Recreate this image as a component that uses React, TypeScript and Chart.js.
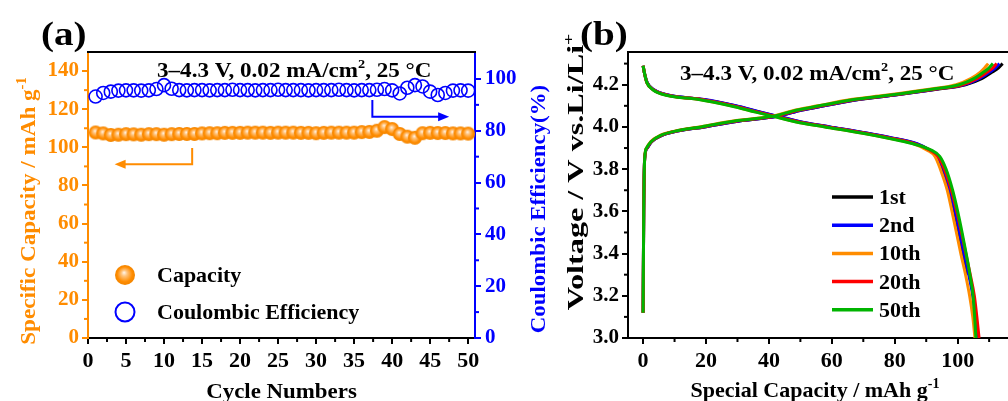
import React, { useEffect, useRef } from 'react';
import { Chart, registerables } from 'chart.js';

Chart.register(...registerables);

const SERIF = "'Liberation Serif', 'Times New Roman', Times, serif";
const ORANGE = '#FF8C00';
const BLUE = '#0000FF';
const BLACK = '#000000';

// ---------- Panel (a): cycling ----------
const cycleNumbers = [1, 2, 3, 4, 5, 6, 7, 8, 9, 10, 11, 12, 13, 14, 15, 16, 17, 18, 19, 20, 21, 22, 23, 24, 25, 26, 27, 28, 29, 30, 31, 32, 33, 34, 35, 36, 37, 38, 39, 40, 41, 42, 43, 44, 45, 46, 47, 48, 49, 50];
const specificCapacity = [107.8, 107.3, 106.5, 106.6, 106.9, 106.8, 106.6, 106.9, 106.9, 106.6, 106.9, 107.0, 107.0, 107.0, 107.3, 107.4, 107.4, 107.6, 107.6, 107.6, 107.7, 107.7, 107.7, 107.6, 107.7, 107.7, 107.7, 107.6, 107.6, 107.4, 107.6, 107.7, 107.7, 107.7, 107.7, 108.0, 108.1, 108.7, 110.6, 109.6, 107.0, 105.6, 105.0, 107.4, 107.6, 107.5, 107.5, 107.3, 107.3, 107.2];
const coulombicEfficiency = [93.2, 94.6, 95.1, 95.5, 95.6, 95.6, 95.5, 95.6, 96.1, 97.6, 96.2, 95.7, 95.6, 95.7, 95.7, 95.6, 95.7, 95.7, 95.8, 95.7, 95.7, 95.6, 95.7, 95.7, 95.8, 95.7, 95.7, 95.7, 95.6, 95.7, 95.7, 95.7, 95.8, 95.7, 95.6, 95.7, 95.7, 95.8, 96.1, 95.6, 94.4, 96.6, 97.6, 97.1, 95.1, 93.8, 94.6, 95.5, 95.6, 95.5];
const cycleMinorTicks = [2.5, 7.5, 12.5, 17.5, 22.5, 27.5, 32.5, 37.5, 42.5, 47.5];
const capacityMinorTicks = [10, 30, 50, 70, 90, 110, 130];
const efficiencyMinorTicks = [10, 30, 50, 70, 90];

// ---------- Panel (b): charge / discharge profiles ----------
const cycleLabels = ['1st', '2nd', '10th', '20th', '50th'];
const cycleColors = ['#000000', '#0000FF', '#FF8C00', '#FF0000', '#00B400'];

const chargeVoltage = [3.12, 3.60, 3.85, 3.90, 3.93, 3.96, 3.98, 4.00, 4.03, 4.05, 4.08, 4.10, 4.13, 4.15, 4.18, 4.20, 4.23, 4.26, 4.28, 4.30];
const chargeCapacity1st = [0, 0.2, 0.5, 1.3, 2.7, 6.0, 10.8, 19.5, 31.5, 42.5, 50.5, 57.5, 68.5, 79.5, 94.0, 102.5, 107.8, 111.0, 113.0, 114.3];
const chargeCapacity2nd = [0, 0.2, 0.5, 1.3, 2.7, 6.0, 10.8, 19.5, 31.5, 42.5, 50.5, 57.5, 68.5, 79.5, 93.5, 102.0, 107.0, 110.2, 112.0, 113.3];
const chargeCapacity10th = [0, 0.2, 0.5, 1.1, 2.4, 5.4, 10.0, 18.0, 29.5, 40.5, 48.5, 55.5, 66.0, 77.0, 91.5, 99.5, 104.3, 107.2, 108.6, 109.7];
const chargeCapacity20th = [0, 0.2, 0.5, 1.2, 2.6, 5.8, 10.5, 19.0, 30.8, 41.8, 49.8, 56.8, 67.8, 78.8, 93.2, 101.5, 106.3, 109.4, 111.2, 112.4];
const chargeCapacity50th = [0, 0.2, 0.5, 1.1, 2.5, 5.6, 10.2, 18.5, 30.0, 41.0, 49.0, 56.0, 67.0, 78.0, 92.3, 100.5, 105.3, 108.3, 110.0, 111.2];

const dischargeVoltage = [4.29, 4.25, 4.21, 4.175, 4.15, 4.13, 4.10, 4.07, 4.05, 4.02, 4.00, 3.97, 3.95, 3.92, 3.89, 3.86, 3.80, 3.70, 3.60, 3.50, 3.40, 3.30, 3.20, 3.10, 3.00];
const dischargeCapacity1st = [0, 0.5, 1.3, 3.5, 8.1, 19.2, 29.2, 37.2, 42.7, 51.2, 59.2, 71.2, 78.2, 87.0, 91.0, 93.5, 95.3, 97.4, 99.0, 100.4, 101.7, 103.2, null, null, null];
const dischargeCapacity2nd = [0, 0.5, 1.3, 3.6, 8.3, 19.5, 29.5, 37.5, 43.0, 51.5, 59.5, 71.5, 78.5, 87.3, 91.2, 93.6, 95.5, 97.6, 99.2, 100.6, 102.0, 103.5, 104.8, 105.6, 106.2];
const dischargeCapacity10th = [0, 0.5, 1.2, 3.3, 7.5, 18.0, 28.0, 36.0, 41.5, 50.0, 58.0, 70.0, 77.0, 86.0, 90.3, 92.8, 94.5, 96.7, 98.2, 99.6, 101.0, 102.5, 103.8, 104.8, 105.5];
const dischargeCapacity20th = [0, 0.5, 1.2, 3.4, 7.8, 18.6, 28.6, 36.6, 42.2, 50.7, 58.7, 70.7, 77.7, 86.6, 91.2, 93.8, 95.8, 98.0, 99.7, 101.2, 102.6, 104.0, 105.3, 106.1, 106.8];
const dischargeCapacity50th = [0, 0.5, 1.2, 3.2, 7.3, 17.7, 27.7, 35.8, 41.3, 49.8, 57.8, 69.8, 76.8, 85.8, 91.6, 94.3, 96.3, 98.4, 100.0, 101.4, 102.7, 103.9, 104.9, 105.4, 105.8];

const voltageMinorTicks = [3.1, 3.3, 3.5, 3.7, 3.9, 4.1, 4.3];
const specialCapacityMinorTicks = [10, 30, 50, 70, 90, 110];

const chargeSets = [chargeCapacity1st, chargeCapacity2nd, chargeCapacity10th, chargeCapacity20th, chargeCapacity50th];
const dischargeSets = [dischargeCapacity1st, dischargeCapacity2nd, dischargeCapacity10th, dischargeCapacity20th, dischargeCapacity50th];

// ---------- helpers ----------
type Seg = { t: string; sup?: boolean };

function richText(
  ctx: CanvasRenderingContext2D,
  segs: Seg[],
  x: number,
  y: number,
  size: number,
  color: string,
  opts: { align?: 'left' | 'center'; rot?: number; sx?: number } = {}
) {
  ctx.save();
  ctx.translate(x, y);
  if (opts.rot) ctx.rotate(opts.rot);
  ctx.scale(opts.sx ?? 1, 1);
  ctx.fillStyle = color;
  ctx.textBaseline = 'alphabetic';
  ctx.textAlign = 'left';
  const fontOf = (s: Seg) => `bold ${s.sup ? Math.round(size * 0.62) : size}px ${SERIF}`;
  const widths = segs.map((s) => {
    ctx.font = fontOf(s);
    return ctx.measureText(s.t).width;
  });
  const total = widths.reduce((a, b) => a + b, 0);
  let cx = opts.align === 'center' ? -total / 2 : 0;
  segs.forEach((s, i) => {
    ctx.font = fontOf(s);
    ctx.fillText(s.t, cx, s.sup ? -size * 0.42 : 0);
    cx += widths[i];
  });
  ctx.restore();
}

function arrowPath(ctx: CanvasRenderingContext2D, pts: number[][], color: string) {
  ctx.save();
  ctx.strokeStyle = color;
  ctx.fillStyle = color;
  ctx.lineWidth = 2;
  const n = pts.length;
  const [ex, ey] = pts[n - 1];
  const [px, py] = pts[n - 2];
  const ang = Math.atan2(ey - py, ex - px);
  const head = 11;
  ctx.beginPath();
  ctx.moveTo(pts[0][0], pts[0][1]);
  for (let i = 1; i < n - 1; i++) ctx.lineTo(pts[i][0], pts[i][1]);
  ctx.lineTo(ex - Math.cos(ang) * head * 0.8, ey - Math.sin(ang) * head * 0.8);
  ctx.stroke();
  ctx.beginPath();
  ctx.moveTo(ex, ey);
  ctx.lineTo(ex - Math.cos(ang) * head + Math.sin(ang) * 4.5, ey - Math.sin(ang) * head - Math.cos(ang) * 4.5);
  ctx.lineTo(ex - Math.cos(ang) * head - Math.sin(ang) * 4.5, ey - Math.sin(ang) * head + Math.cos(ang) * 4.5);
  ctx.closePath();
  ctx.fill();
  ctx.restore();
}

function makeSphere(r: number) {
  const c = document.createElement('canvas');
  const s = Math.ceil(2 * r + 2);
  c.width = s;
  c.height = s;
  const g = c.getContext('2d')!;
  const cx = s / 2;
  const cy = s / 2;
  const grad = g.createRadialGradient(cx - r * 0.1, cy - r * 0.25, 0, cx, cy, r);
  grad.addColorStop(0, '#FFF6EC');
  grad.addColorStop(0.3, '#FFC27A');
  grad.addColorStop(0.75, '#FF8C00');
  grad.addColorStop(1, '#F28500');
  g.fillStyle = grad;
  g.beginPath();
  g.arc(cx, cy, r, 0, Math.PI * 2);
  g.fill();
  return c;
}

function hLine(ctx: CanvasRenderingContext2D, x1: number, y1: number, x2: number, y2: number, color: string, w = 2) {
  ctx.save();
  ctx.strokeStyle = color;
  ctx.lineWidth = w;
  ctx.beginPath();
  ctx.moveTo(x1, y1);
  ctx.lineTo(x2, y2);
  ctx.stroke();
  ctx.restore();
}

const tickFont = (size: number) => ({ family: SERIF, size, weight: 'bold' as const });

const A_W = 552;
const B_W = 456;

export default function App() {
  const refA = useRef<HTMLCanvasElement>(null);
  const refB = useRef<HTMLCanvasElement>(null);

  useEffect(() => {
    const sphere = makeSphere(7);
    const legendSphere = makeSphere(10);

    const pluginA = {
      id: 'panelA',
      afterDraw(chart: any) {
        const { ctx, chartArea: ca, scales } = chart;
        const sx = scales.x;
        const sy = scales.y;
        const sy1 = scales.y1;
        hLine(ctx, ca.left - 1, ca.top, ca.right + 1, ca.top, BLACK);
        cycleMinorTicks.forEach((v) => {
          const p = sx.getPixelForValue(v);
          hLine(ctx, p, ca.bottom, p, ca.bottom + 4, BLACK);
        });
        capacityMinorTicks.forEach((v) => {
          const p = sy.getPixelForValue(v);
          hLine(ctx, ca.left, p, ca.left - 4, p, ORANGE);
        });
        efficiencyMinorTicks.forEach((v) => {
          const p = sy1.getPixelForValue(v);
          hLine(ctx, ca.right, p, ca.right + 4, p, BLUE);
        });
        richText(ctx, [{ t: '(a)' }], 41, 45, 34, BLACK, { sx: 1.15 });
        richText(ctx, [{ t: '3–4.3 V, 0.02 mA/cm' }, { t: '2', sup: true }, { t: ', 25 °C' }], ca.left + 69, ca.top + 25, 21, BLACK, { sx: 1.1 });
        arrowPath(ctx, [
          [sx.getPixelForValue(13.7), sy.getPixelForValue(99.6)],
          [sx.getPixelForValue(13.7), sy.getPixelForValue(91.1)],
          [sx.getPixelForValue(3.5), sy.getPixelForValue(91.1)],
        ], ORANGE);
        arrowPath(ctx, [
          [sx.getPixelForValue(37.4), sy1.getPixelForValue(91.9)],
          [sx.getPixelForValue(37.4), sy1.getPixelForValue(85.4)],
          [sx.getPixelForValue(47.5), sy1.getPixelForValue(85.4)],
        ], BLUE);
        const lx = ca.left + 37;
        ctx.drawImage(legendSphere, lx - legendSphere.width / 2, ca.top + 223 - legendSphere.height / 2);
        richText(ctx, [{ t: 'Capacity' }], ca.left + 69, ca.top + 230, 22, BLACK);
        ctx.save();
        ctx.strokeStyle = BLUE;
        ctx.lineWidth = 2;
        ctx.beginPath();
        ctx.arc(lx, ca.top + 260, 9.5, 0, Math.PI * 2);
        ctx.stroke();
        ctx.restore();
        richText(ctx, [{ t: 'Coulombic Efficiency' }], ca.left + 69, ca.top + 267, 22, BLACK);
        richText(ctx, [{ t: 'Cycle Numbers' }], (ca.left + ca.right) / 2, ca.bottom + 60, 22, BLACK, { align: 'center', sx: 1.04 });
        richText(ctx, [{ t: 'Specific Capacity / mAh g' }, { t: '-1', sup: true }], 35, 211, 22, ORANGE, { align: 'center', rot: -Math.PI / 2, sx: 1.05 });
        richText(ctx, [{ t: 'Coulombic Efficiency(%)' }], ca.right + 70, 209, 22, BLUE, { align: 'center', rot: -Math.PI / 2, sx: 1.04 });
      },
    };

    const pluginB = {
      id: 'panelB',
      afterDraw(chart: any) {
        const { ctx, chartArea: ca, scales } = chart;
        const sx = scales.x;
        const sy = scales.y;
        hLine(ctx, ca.left - 1, ca.top, ca.right, ca.top, BLACK);
        specialCapacityMinorTicks.forEach((v) => {
          const p = sx.getPixelForValue(v);
          hLine(ctx, p, ca.bottom, p, ca.bottom + 4, BLACK);
        });
        voltageMinorTicks.forEach((v) => {
          const p = sy.getPixelForValue(v);
          hLine(ctx, ca.left, p, ca.left - 4, p, BLACK);
        });
        richText(ctx, [{ t: '(b)' }], 28, 45, 34, BLACK, { sx: 1.15 });
        richText(ctx, [{ t: '3–4.3 V, 0.02 mA/cm' }, { t: '2', sup: true }, { t: ', 25 °C' }], ca.left + 52, ca.top + 28, 21, BLACK, { sx: 1.1 });
        cycleLabels.forEach((lab, i) => {
          const yy = ca.top + 145 + i * 28.2;
          hLine(ctx, ca.left + 204, yy, ca.left + 245, yy, cycleColors[i], 3.5);
          richText(ctx, [{ t: lab }], ca.left + 251, yy + 7, 22, BLACK);
        });
        richText(ctx, [{ t: 'Special Capacity / mAh g' }, { t: '-1', sup: true }], (ca.left + ca.right) / 2 - 3, ca.bottom + 59, 22, BLACK, { align: 'center' });
        richText(ctx, [{ t: 'Voltage / V vs.Li/Li' }, { t: '+', sup: true }], 31, 172, 23, BLACK, { align: 'center', rot: -Math.PI / 2, sx: 1.4 });
      },
    };

    const chartA = new Chart(refA.current!, {
      type: 'scatter',
      data: {
        datasets: [
          {
            label: 'Capacity',
            data: cycleNumbers.map((c, i) => ({ x: c, y: specificCapacity[i] })),
            yAxisID: 'y',
            pointStyle: sphere as any,
            pointRadius: 7,
            backgroundColor: ORANGE,
            borderColor: ORANGE,
          },
          {
            label: 'Coulombic Efficiency',
            data: cycleNumbers.map((c, i) => ({ x: c, y: coulombicEfficiency[i] })),
            yAxisID: 'y1',
            pointStyle: 'circle',
            pointRadius: 6.5,
            borderWidth: 1.6,
            borderColor: BLUE,
            backgroundColor: 'rgba(0,0,0,0)',
          },
        ],
      },
      options: {
        responsive: false,
        animation: false,
        events: [],
        layout: { padding: { top: 52, left: 0, right: 0, bottom: 0 } },
        plugins: { legend: { display: false }, tooltip: { enabled: false } },
        scales: {
          x: {
            type: 'linear',
            position: 'bottom',
            min: 0,
            max: 50.9,
            afterFit: (s: any) => { s.height = 63; },
            ticks: { stepSize: 5, includeBounds: false, color: BLACK, font: tickFont(22), padding: 4, maxRotation: 0, autoSkip: false },
            grid: { drawOnChartArea: false, drawTicks: true, tickLength: 6, color: BLACK, lineWidth: 2 },
            border: { display: true, color: BLACK, width: 2 },
          },
          y: {
            type: 'linear',
            position: 'left',
            min: 0,
            max: 150,
            afterFit: (s: any) => { s.width = 88; },
            ticks: { stepSize: 20, includeBounds: false, color: ORANGE, font: tickFont(21), padding: 3 },
            grid: { drawOnChartArea: false, drawTicks: true, tickLength: 6, color: ORANGE, lineWidth: 2 },
            border: { display: true, color: ORANGE, width: 2 },
          },
          y1: {
            type: 'linear',
            position: 'right',
            min: 0,
            max: 110.4,
            afterFit: (s: any) => { s.width = A_W - 475; },
            ticks: { stepSize: 20, includeBounds: false, color: BLUE, font: tickFont(21), padding: 4 },
            grid: { drawOnChartArea: false, drawTicks: true, tickLength: 6, color: BLUE, lineWidth: 2 },
            border: { display: true, color: BLUE, width: 2 },
          },
        },
      } as any,
      plugins: [pluginA],
    });

    const datasetsB: any[] = [];
    cycleLabels.forEach((lab, k) => {
      datasetsB.push({
        label: lab + ' charge',
        data: chargeVoltage.map((v, i) => ({ x: chargeSets[k][i], y: v })),
        borderColor: cycleColors[k],
        backgroundColor: cycleColors[k],
        borderWidth: 3,
        pointRadius: 0,
        cubicInterpolationMode: 'monotone',
        order: 5 - k,
      });
      datasetsB.push({
        label: lab + ' discharge',
        data: dischargeVoltage
          .map((v, i) => ({ x: dischargeSets[k][i], y: v }))
          .filter((p) => p.x !== null),
        borderColor: cycleColors[k],
        backgroundColor: cycleColors[k],
        borderWidth: 3,
        pointRadius: 0,
        cubicInterpolationMode: 'monotone',
        order: 5 - k,
      });
    });

    const chartB = new Chart(refB.current!, {
      type: 'line',
      data: { datasets: datasetsB },
      options: {
        responsive: false,
        animation: false,
        events: [],
        layout: { padding: { top: 52, left: 0, right: 0, bottom: 0 } },
        plugins: { legend: { display: false }, tooltip: { enabled: false } },
        scales: {
          x: {
            type: 'linear',
            position: 'bottom',
            min: -4.8,
            max: 116,
            afterFit: (s: any) => { s.height = 63; },
            ticks: { stepSize: 20, includeBounds: false, color: BLACK, font: tickFont(22), padding: 4, maxRotation: 0, autoSkip: false },
            grid: { drawOnChartArea: false, drawTicks: true, tickLength: 6, color: BLACK, lineWidth: 2 },
            border: { display: true, color: BLACK, width: 2 },
          },
          y: {
            type: 'linear',
            position: 'left',
            min: 3.0,
            max: 4.355,
            afterFit: (s: any) => { s.width = 628 - A_W; },
            ticks: { stepSize: 0.2, includeBounds: false, color: BLACK, font: tickFont(21), padding: 3, callback: (v: any) => Number(v).toFixed(1) },
            grid: { drawOnChartArea: false, drawTicks: true, tickLength: 6, color: BLACK, lineWidth: 2 },
            border: { display: true, color: BLACK, width: 2 },
          },
        },
      } as any,
      plugins: [pluginB],
    });

    return () => {
      chartA.destroy();
      chartB.destroy();
    };
  }, []);

  return (
    <div style={{ position: 'fixed', left: 0, top: 0, width: 1008, height: 401, background: '#fff', overflow: 'hidden' }}>
      <canvas ref={refA} width={A_W} height={401} style={{ position: 'absolute', left: 0, top: 0, width: A_W, height: 401 }} />
      <canvas ref={refB} width={B_W} height={401} style={{ position: 'absolute', left: A_W, top: 0, width: B_W, height: 401 }} />
    </div>
  );
}
